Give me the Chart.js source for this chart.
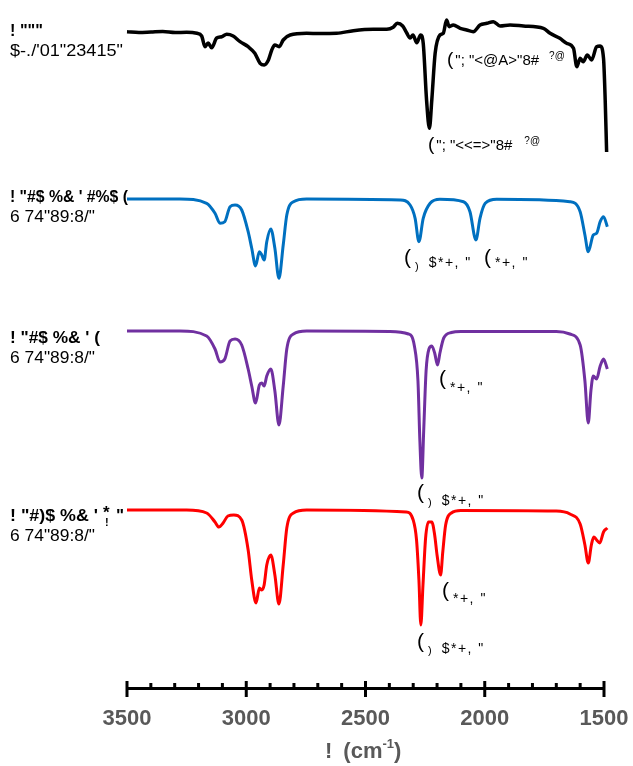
<!DOCTYPE html>
<html><head><meta charset="utf-8">
<script src="https://cdn.jsdelivr.net/npm/chart.js@4/dist/chart.umd.min.js"></script>
<style>html,body{margin:0;padding:0;background:#fff}#wrap{width:633px;height:766px;position:relative}</style>
</head><body><div id="wrap"><canvas id="c"></canvas></div>
<script>
// ---- data (wavenumber in cm-1, band depth below each trace's baseline) ----
const xTickValues = [3500, 3000, 2500, 2000, 1500];

const blackWn = [3500,3450,3399,3350,3298,3250,3207,3187,3173,3160,3145,3124,3103,3082,3055,3026,2992,2964,2942,2925,2907,2893,2880,2862,2845,2816,2747,2693,2621,2551,2467,2411,2384,2367,2344,2327,2313,2301,2285,2269,2258,2244,2232,2222,2208,2188,2174,2160,2149,2132,2103,2076,2048,2020,1991,1964,1936,1894,1838,1754,1726,1685,1657,1628,1614,1600,1587,1570,1552,1531,1516,1502,1495,1489];
const blackDepth = [-0.3,0.5,0,-0.5,0.5,0.3,1.3,4,14.7,11,15.7,6,4.7,2.3,4,9.7,14.7,21.3,31.3,33,28,18,13,14.7,8,3,1.3,1.5,1.3,-1.3,-2.7,-2.7,-4.7,-8.7,-6,1,6,3,10.7,3,11.3,68,96.3,68,21.3,3,1.3,-12,-5.3,-7,-3.7,-2,-0.3,-7,-8.7,-10.3,-6,-7,-6,-3.7,1.3,6.3,11.3,16.3,34.7,26.3,29.7,23,28,14.7,14,26.3,68,120];

const blueWn = [3500,3278,3166,3131,3110,3090,3068,3047,3019,2992,2977,2961,2945,2935,2925,2914,2897,2880,2863,2845,2830,2802,2747,2355,2313,2292,2276,2258,2229,2188,2089,2062,2037,2020,1998,1950,1643,1600,1580,1566,1545,1531,1516,1502,1486];
const blueDepth = [0,0,4.3,14.3,24.3,22.7,7.7,6,11,32.7,49.3,67,52.7,56,61,42.7,30,49.3,79.3,46,16,2.7,0,1,6,19.3,42.7,19.3,4.3,0.3,2.7,12.7,41,19.3,4.3,0.3,2.7,12.7,36,52.7,36,34.3,22.7,17.7,27.7];

const purpleWn = [3500,3278,3166,3131,3110,3090,3068,3047,3019,2992,2977,2961,2945,2935,2925,2914,2897,2880,2863,2845,2830,2802,2747,2400,2320,2295,2280,2272,2264,2256,2246,2234,2222,2210,2198,2188,2172,2140,2100,1700,1643,1600,1580,1566,1555,1545,1531,1516,1502,1486];
const purpleDepth = [0,0,5,18,31,28,10,8,14,38,55,72,54,52,55,45,38,60,94,55,18,3,0,0.5,3,15,50,110,147,100,40,18,15,22,34,22,7,1.5,0.5,0.5,3,14,50,92,60,45,48,35,28,38];

const redWn = [3500,3250,3166,3131,3115,3097,3077,3052,3019,2992,2977,2959,2945,2935,2925,2914,2897,2880,2863,2845,2830,2802,2747,2330,2300,2286,2276,2268,2259,2248,2236,2222,2210,2200,2185,2176,2164,2140,2100,1700,1643,1600,1580,1566,1553,1543,1531,1518,1502,1486];
const redDepth = [0,0,3,12,17,13,6,5,10,40,70,93,78,80,75,55,45,65,94,55,18,3,0,2,10,30,70,115,75,28,12,12,25,45,65,42,15,3,0.5,1,4,14,35,53,35,27,30,33,22,18];

const seriesLabels = ['! """', '! "#$ %& \' #%$ (', '! "#$ %& \' (', '! "#)$ %& \' *"'];
const seriesSubLabels = ['$-./\'01"23415"', '6 74"89:8/"', '6 74"89:8/"', '6 74"89:8/"'];
const bandLabelsBlack = ['"; "<@A>"8#', '"; "<<=>"8#', '?@'];
const bandLabelA = '$*+, "';
const bandLabelB = '*+, "';
const axisTitleParts = ['!', '(cm', '-1', ')'];

// ---- build ----
const traces = [
  {wn: blackWn, d: blackDepth, color: '#000000', base: 656, w: 3.5},
  {wn: blueWn, d: blueDepth, color: '#0070C0', base: 489, w: 3},
  {wn: purpleWn, d: purpleDepth, color: '#7030A0', base: 357, w: 3},
  {wn: redWn, d: redDepth, color: '#FF0000', base: 178, w: 3}
];
const datasets = traces.map(t => ({
  data: t.wn.map((x, i) => ({x: x, y: t.base - t.d[i]})),
  borderColor: t.color, borderWidth: t.w, pointRadius: 0, showLine: true,
  cubicInterpolationMode: 'monotone', clip: false, fill: false
}));

const FONT = '"Liberation Sans", Arial, sans-serif';
function fitText(ctx, text, x, y, font, width) {
  ctx.font = font;
  const m = ctx.measureText(text).width;
  const s = width ? width / m : 1;
  ctx.save(); ctx.translate(x, y); ctx.scale(s, 1); ctx.fillText(text, 0, 0); ctx.restore();
  return x + m * s;
}
function runs(ctx, x, items) {
  let cx = x;
  items.forEach(it => {
    ctx.font = (it.bold ? 'bold ' : '') + it.size + 'px ' + FONT;
    if (it.dx) cx += it.dx;
    ctx.letterSpacing = it.ls || '0px';
    ctx.fillText(it.t, cx, it.y);
    cx += ctx.measureText(it.t).width;
    ctx.letterSpacing = '0px';
  });
}

const decor = {
  id: 'decor',
  afterDraw(chart) {
    const ctx = chart.ctx;
    const xs = chart.scales.x;
    const top = xs.top;
    ctx.save();
    // tick marks
    ctx.strokeStyle = '#000'; ctx.lineWidth = 3;
    for (let v = 1500; v <= 3500; v += 100) {
      const px = xs.getPixelForValue(v);
      const major = xTickValues.includes(v);
      ctx.beginPath();
      ctx.moveTo(px, major ? top - 7 : top - 5);
      ctx.lineTo(px, major ? top + 9 : top);
      ctx.stroke();
    }
    // axis title
    ctx.fillStyle = '#595959'; ctx.textBaseline = 'alphabetic';
    runs(ctx, 325, [
      {t: axisTitleParts[0], size: 22, bold: true, y: 758},
      {t: axisTitleParts[1], size: 22, bold: true, y: 758, dx: 11},
      {t: axisTitleParts[2], size: 13, bold: true, y: 748},
      {t: axisTitleParts[3], size: 22, bold: true, y: 758}
    ]);
    // series labels
    ctx.fillStyle = '#000';
    fitText(ctx, seriesLabels[0], 10, 36, 'bold 17px ' + FONT, 33);
    fitText(ctx, seriesSubLabels[0], 10, 56, '16px ' + FONT, 113);
    fitText(ctx, seriesLabels[1], 10, 202, 'bold 17px ' + FONT, 118);
    fitText(ctx, seriesSubLabels[1], 10, 222, '16px ' + FONT, 85);
    fitText(ctx, seriesLabels[2], 10, 343, 'bold 17px ' + FONT, 90);
    fitText(ctx, seriesSubLabels[2], 10, 363, '16px ' + FONT, 85);
    // red label with stacked * and !
    let ex = fitText(ctx, '! "#)$ %& \' ', 10, 521, 'bold 17px ' + FONT, 93);
    ctx.font = 'bold 17px ' + FONT; ctx.fillText('*', ex, 518);
    ctx.font = 'bold 11px ' + FONT; ctx.fillText('!', ex + 2, 526);
    ctx.font = 'bold 17px ' + FONT; ctx.fillText('"', ex + 13, 521);
    fitText(ctx, seriesSubLabels[3], 10, 541, '16px ' + FONT, 85);
    // band labels black trace
    runs(ctx, 447, [
      {t: '(', size: 19, y: 65},
      {t: bandLabelsBlack[0], size: 15, y: 65, dx: 2},
      {t: bandLabelsBlack[2], size: 10, y: 59, dx: 10}
    ]);
    runs(ctx, 428, [
      {t: '(', size: 19, y: 150},
      {t: bandLabelsBlack[1], size: 15, y: 150, dx: 2},
      {t: bandLabelsBlack[2], size: 10, y: 144, dx: 12}
    ]);
    // blue
    runs(ctx, 404, [
      {t: '(', size: 21, y: 264},
      {t: ')', size: 11, y: 270, dx: 4},
      {t: bandLabelA, size: 14, y: 267, dx: 10, ls: '1.5px'}
    ]);
    runs(ctx, 484, [
      {t: '(', size: 21, y: 264},
      {t: bandLabelB, size: 14, y: 267, dx: 4, ls: '1.5px'}
    ]);
    // purple
    runs(ctx, 439, [
      {t: '(', size: 21, y: 385},
      {t: bandLabelB, size: 14, y: 392, dx: 4, ls: '1.5px'}
    ]);
    runs(ctx, 417, [
      {t: '(', size: 21, y: 499},
      {t: ')', size: 11, y: 506, dx: 4},
      {t: bandLabelA, size: 14, y: 505, dx: 10, ls: '1.5px'}
    ]);
    // red
    runs(ctx, 442, [
      {t: '(', size: 21, y: 597},
      {t: bandLabelB, size: 14, y: 603, dx: 4, ls: '1.5px'}
    ]);
    runs(ctx, 417, [
      {t: '(', size: 21, y: 648},
      {t: ')', size: 11, y: 654, dx: 4},
      {t: bandLabelA, size: 14, y: 653, dx: 10, ls: '1.5px'}
    ]);
    ctx.restore();
  }
};

new Chart(document.getElementById('c'), {
  type: 'scatter',
  data: {datasets: datasets},
  options: {
    responsive: true, maintainAspectRatio: false, animation: false, devicePixelRatio: 1,
    layout: {padding: {left: 127, right: 29, top: 0, bottom: 0}},
    plugins: {legend: {display: false}, tooltip: {enabled: false}},
    scales: {
      x: {
        type: 'linear', reverse: true, min: 1500, max: 3500, position: 'bottom',
        afterFit: (s) => { s.height = 78; s.paddingLeft = 0; s.paddingRight = 0; },
        afterBuildTicks: (s) => { s.ticks = xTickValues.map(v => ({value: v})); },
        ticks: {autoSkip: false, maxRotation: 0, padding: 18, color: '#595959',
                font: {family: FONT, size: 22, weight: 'bold'},
                callback: (v) => String(v)},
        grid: {display: false, drawTicks: false},
        border: {display: true, color: '#000', width: 3}
      },
      y: {display: false, min: 0, max: 688}
    }
  },
  plugins: [decor]
});
</script></body></html>
